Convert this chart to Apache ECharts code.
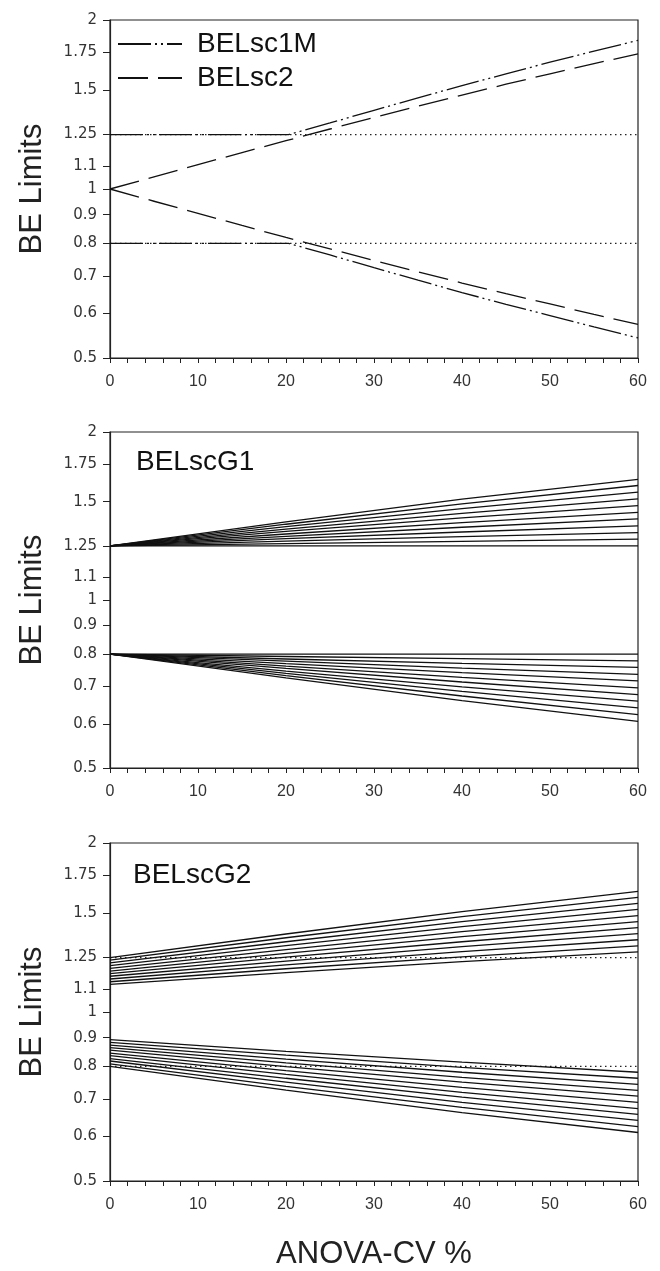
<!DOCTYPE html>
<html>
<head>
<meta charset="utf-8">
<script src="https://cdn.jsdelivr.net/npm/echarts@6/dist/echarts.min.js"></script>
<style>
html,body{margin:0;padding:0;background:#fff;}
#chart{width:660px;height:1271px;}
</style>
</head>
<body>
<div id="chart"></div>
<script>
// ---------- data ----------
const yTickValues = [0.5, 0.6, 0.7, 0.8, 0.9, 1, 1.1, 1.25, 1.5, 1.75, 2];
const xTickLabels = [0, 10, 20, 30, 40, 50, 60];
const refLevels = [1.25, 0.8];
const refCV = [0, 60];

// Panel 1
const sc2CV = [0, 5, 10, 15, 20, 25, 30, 35, 40, 45, 50, 55, 60];
const sc2Upper = [1.000, 1.051, 1.105, 1.161, 1.219, 1.279, 1.341, 1.405, 1.470, 1.537, 1.604, 1.672, 1.741];
const sc2Lower = [1.000, 0.951, 0.905, 0.861, 0.820, 0.782, 0.746, 0.712, 0.680, 0.651, 0.624, 0.598, 0.574];
const sc1mCV = [0, 20.3, 25, 30, 35, 40, 45, 50, 55, 60];
const sc1mUpper = [1.25, 1.25, 1.311, 1.381, 1.453, 1.528, 1.604, 1.682, 1.760, 1.840];
const sc1mLower = [0.80, 0.80, 0.763, 0.724, 0.688, 0.654, 0.623, 0.595, 0.568, 0.543];

// Panels 2 and 3: values at these CVs
const fanCV = [0, 20, 40, 60];
const g1Upper = [
  [1.25, 1.250, 1.250, 1.250],
  [1.25, 1.262, 1.274, 1.285],
  [1.25, 1.275, 1.299, 1.321],
  [1.25, 1.288, 1.324, 1.358],
  [1.25, 1.300, 1.350, 1.397],
  [1.25, 1.313, 1.376, 1.436],
  [1.25, 1.327, 1.403, 1.476],
  [1.25, 1.340, 1.430, 1.518],
  [1.25, 1.353, 1.458, 1.560],
  [1.25, 1.367, 1.487, 1.604],
  [1.25, 1.380, 1.516, 1.645]
];
const g1Lower = [
  [0.80, 0.800, 0.800, 0.800],
  [0.80, 0.792, 0.785, 0.778],
  [0.80, 0.784, 0.770, 0.757],
  [0.80, 0.777, 0.755, 0.736],
  [0.80, 0.769, 0.741, 0.716],
  [0.80, 0.761, 0.727, 0.696],
  [0.80, 0.754, 0.713, 0.677],
  [0.80, 0.746, 0.699, 0.659],
  [0.80, 0.739, 0.686, 0.641],
  [0.80, 0.732, 0.673, 0.623],
  [0.80, 0.725, 0.660, 0.606]
];
const g2Upper = [
  [1.120, 1.175, 1.229, 1.280],
  [1.132, 1.194, 1.254, 1.312],
  [1.145, 1.213, 1.281, 1.345],
  [1.158, 1.232, 1.307, 1.379],
  [1.170, 1.252, 1.334, 1.413],
  [1.183, 1.272, 1.362, 1.449],
  [1.196, 1.292, 1.390, 1.485],
  [1.210, 1.313, 1.419, 1.523],
  [1.223, 1.334, 1.449, 1.561],
  [1.237, 1.356, 1.479, 1.600],
  [1.250, 1.377, 1.510, 1.640]
];
const g2Lower = [
  [0.893, 0.851, 0.814, 0.781],
  [0.883, 0.838, 0.797, 0.762],
  [0.873, 0.824, 0.781, 0.743],
  [0.864, 0.812, 0.765, 0.725],
  [0.855, 0.799, 0.750, 0.708],
  [0.845, 0.786, 0.734, 0.690],
  [0.836, 0.774, 0.719, 0.673],
  [0.826, 0.762, 0.705, 0.657],
  [0.818, 0.750, 0.690, 0.641],
  [0.808, 0.737, 0.676, 0.625],
  [0.800, 0.726, 0.662, 0.610]
];

// ---------- styles ----------
const INK = '#111';
const LW = 1.3;
const DASH_DOT_DOT = [33, 4, 2, 4, 2, 4];
const DASH = [30, 10];
const DOT = [1.5, 3.5];

function pairs(xs, ys) { return xs.map((x, i) => [x, ys[i]]); }
function lineSeries(idx, name, xs, ys, dash, width, color) {
  return {
    type: 'line', name: name, xAxisIndex: idx, yAxisIndex: idx,
    data: pairs(xs, ys), symbol: 'none', silent: true, animation: false,
    itemStyle: { color: color || INK },
    lineStyle: { color: color || INK, width: width || LW, type: dash || 'solid' },
    z: 3
  };
}

const grids = [
  { left: 110, right: 22, top: 20, height: 338 },
  { left: 110, right: 22, top: 432, height: 336 },
  { left: 110, right: 22, top: 843, height: 340 }
].map(g => Object.assign({ show: true, borderColor: '#222', borderWidth: 1.2, backgroundColor: 'transparent' }, g));

function xAxis(i) {
  const ax = {
    type: 'value', gridIndex: i, min: 0, max: 60, interval: 10,
    axisLine: { show: true, lineStyle: { color: '#222', width: 1.2 } },
    axisTick: { show: true, length: 5, inside: false, lineStyle: { color: '#222' } },
    minorTick: { show: true, splitNumber: 5, length: 5, lineStyle: { color: '#222' } },
    splitLine: { show: false },
    axisLabel: { fontFamily: 'Liberation Sans', fontSize: 16, color: '#333', margin: 16,
      customValues: xTickLabels }
  };
  if (i === 2) {
    ax.name = 'ANOVA-CV %';
    ax.nameLocation = 'middle';
    ax.nameGap = 58;
    ax.nameTextStyle = { fontFamily: 'Liberation Sans', fontSize: 31, color: '#222' };
  }
  return ax;
}
function yAxis(i) {
  return {
    type: 'log', logBase: 10, gridIndex: i, min: 0.5, max: 2,
    name: 'BE Limits', nameLocation: 'middle', nameGap: 62,
    nameTextStyle: { fontFamily: 'Liberation Sans', fontSize: 31, color: '#222' },
    axisLine: { show: true, lineStyle: { color: '#222', width: 1.2 } },
    axisTick: { show: true, length: 7, customValues: yTickValues, lineStyle: { color: '#222' } },
    splitLine: { show: false },
    minorTick: { show: false },
    axisLabel: { fontFamily: 'DejaVu Sans', fontSize: 15, color: '#333', margin: 13,
      customValues: yTickValues, formatter: v => String(+(+v).toFixed(2)) }
  };
}

const series = [];
// Panel 1 reference dotted lines
refLevels.forEach(l => series.push(lineSeries(0, 'ref', refCV, [l, l], DOT, 1.3, '#222')));
series.push(lineSeries(0, 'BELsc1M', sc1mCV, sc1mUpper, DASH_DOT_DOT));
series.push(lineSeries(0, 'BELsc1M', sc1mCV, sc1mLower, DASH_DOT_DOT));
series.push(lineSeries(0, 'BELsc2', sc2CV, sc2Upper, DASH));
series.push(lineSeries(0, 'BELsc2', sc2CV, sc2Lower, DASH));
// Panel 2
g1Upper.forEach(r => series.push(lineSeries(1, 'BELscG1', fanCV, r)));
g1Lower.forEach(r => series.push(lineSeries(1, 'BELscG1', fanCV, r)));
// Panel 3
refLevels.forEach(l => series.push(lineSeries(2, 'ref', refCV, [l, l], DOT, 1.3, '#222')));
g2Upper.forEach(r => series.push(lineSeries(2, 'BELscG2', fanCV, r)));
g2Lower.forEach(r => series.push(lineSeries(2, 'BELscG2', fanCV, r)));

const option = {
  backgroundColor: '#fff',
  animation: false,
  grid: grids,
  xAxis: [0, 1, 2].map(xAxis),
  yAxis: [0, 1, 2].map(yAxis),
  legend: {
    data: ['BELsc1M', 'BELsc2'],
    orient: 'vertical', left: 117, top: 30, itemWidth: 64, itemHeight: 14, itemGap: 6,
    padding: 0, selectedMode: false,
    itemStyle: { opacity: 0, color: 'rgba(0,0,0,0)', borderWidth: 0 },
    textStyle: { fontFamily: 'Liberation Sans', fontSize: 28, color: '#111', padding: [0, 0, 0, 10] }
  },
  title: [
    { text: 'BELscG1', left: 136, top: 448, padding: 0,
      textStyle: { fontFamily: 'Liberation Sans', fontSize: 28, fontWeight: 'normal', color: '#111' } },
    { text: 'BELscG2', left: 133, top: 861, padding: 0,
      textStyle: { fontFamily: 'Liberation Sans', fontSize: 28, fontWeight: 'normal', color: '#111' } }
  ],
  series: series
};

const chart = echarts.init(document.getElementById('chart'), null, { renderer: 'canvas' });
chart.setOption(option);
</script>
</body>
</html>
